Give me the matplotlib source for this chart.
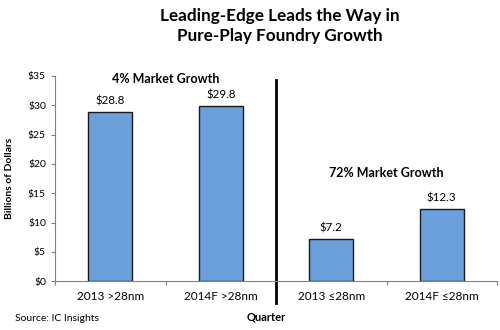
import matplotlib
matplotlib.use("Agg")
import matplotlib.pyplot as plt

# data
categories = ["2013 >28nm", "2014F >28nm", "2013 \u226428nm", "2014F \u226428nm"]
values = [28.8, 29.8, 7.2, 12.3]
yticks = [0, 5, 10, 15, 20, 25, 30, 35]

plt.rcParams['font.family'] = ['Lato', 'DejaVu Sans']

fig = plt.figure(figsize=(5, 3.3), dpi=100, facecolor='white')
ax = fig.add_axes([0.11, 0.148, 0.884, 0.622])

x = range(len(categories))
ax.bar(x, values, width=0.4, color='#6CA0DC', edgecolor='#1a1a1a', linewidth=1)

for i, v in enumerate(values):
    ax.text(i, v + 1.0, "$%.1f" % v, ha='center', va='bottom', fontsize=8.3)

ax.set_xlim(-0.5, 3.5)
ax.set_ylim(0, 35)
ax.set_yticks(yticks)
ax.set_yticklabels(["$%d" % t for t in yticks], fontsize=7.5)
ax.set_xticks([-0.5, 0.5, 1.5, 2.5, 3.5])
ax.set_xticklabels([])
ax.set_xticks(list(x), minor=True)
ax.set_xticklabels(categories, minor=True, fontsize=8.5)
ax.tick_params(axis='x', which='minor', length=0, pad=7)
ax.tick_params(axis='both', which='major', direction='out', length=3, color='#808080')

for s in ['top', 'right']:
    ax.spines[s].set_visible(False)
for s in ['left', 'bottom']:
    ax.spines[s].set_color('#808080')

# divider between the two groups
ax.plot([1.5, 1.5], [34.3, -3.8], color='black', lw=2, clip_on=False)

ax.text(0.5, 33.4, "4% Market Growth", ha='center', va='bottom', fontsize=9, fontweight='bold')
ax.text(2.5, 17.5, "72% Market Growth", ha='center', va='bottom', fontsize=9, fontweight='bold')

ax.set_ylabel("Billions of Dollars", fontsize=7.5, fontweight='bold', labelpad=10)
fig.text(0.532, 0.022, "Quarter", ha='center', va='bottom', fontsize=8, fontweight='bold')
fig.text(0.03, 0.022, "Source: IC Insights", ha='left', va='bottom', fontsize=7.5)

fig.text(0.56, 0.975, "Leading-Edge Leads the Way in\nPure-Play Foundry Growth",
         ha='center', va='top', fontsize=12.3, fontweight='bold', linespacing=1.25)

fig.savefig("out.png", dpi=100, facecolor='white')
